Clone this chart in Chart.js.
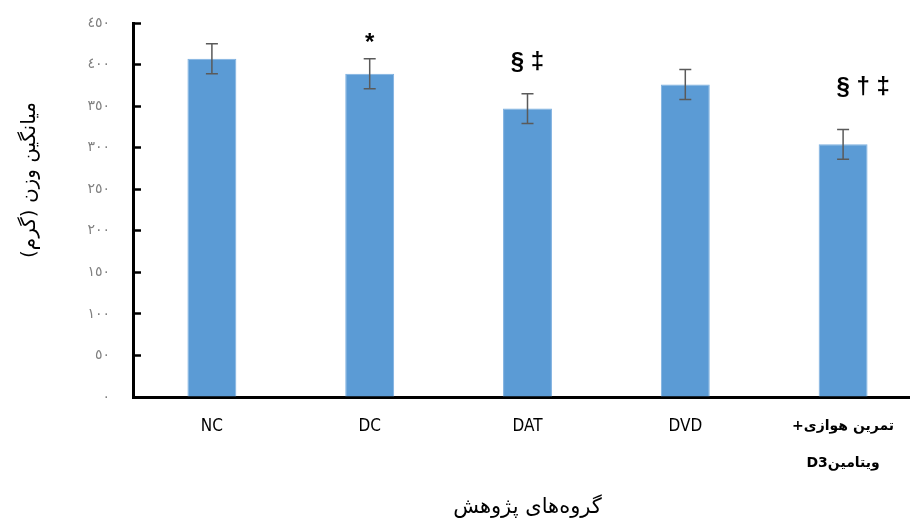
<!DOCTYPE html>
<html>
<head>
<meta charset="utf-8">
<script src="https://cdn.jsdelivr.net/npm/chart.js@4/dist/chart.umd.min.js"></script>
<style>
  html, body { margin: 0; padding: 0; background: #fff; overflow: hidden; }
  #wrap { position: relative; width: 925px; height: 523px; }
</style>
</head>
<body>
<div id="wrap"><canvas id="c" dir="rtl"></canvas></div>
<script>
// Study groups and mean body weight (g) with standard deviation
const groups = ['NC', 'DC', 'DAT', 'DVD', ['تمرین هوازی+', 'ویتامینD3']];
const meanWeight = [407, 389, 347, 376, 304];
const weightSD = [18, 18, 18, 18, 18];
// Significance symbols above each group
const sigMarks = ['', '*', '§ ‡', '', '§ † ‡'];
// Y axis tick labels (Arabic-Indic digits), one per 50 g step
const yTickLabels = ['٠', '٥٠', '١٠٠', '١٥٠', '٢٠٠', '٢٥٠', '٣٠٠', '٣٥٠', '٤٠٠', '٤٥٠'];
const yTitle = 'میانگین وزن (گرم)';
const xTitle = 'گروه‌های پژوهش';

// Error bars (mean ± SD) drawn through the chart's own scales
const errorBars = {
  id: 'errorBars',
  afterDatasetsDraw(chart, args, opts) {
    const { ctx, scales: { y } } = chart;
    const meta = chart.getDatasetMeta(0);
    ctx.save();
    ctx.strokeStyle = opts.color;
    ctx.lineWidth = opts.width;
    meta.data.forEach((bar, i) => {
      const top = y.getPixelForValue(meanWeight[i] + weightSD[i]);
      const bot = y.getPixelForValue(meanWeight[i] - weightSD[i]);
      const x = bar.x, c = opts.cap / 2;
      ctx.beginPath();
      ctx.moveTo(x, top); ctx.lineTo(x, bot);
      ctx.moveTo(x - c, top); ctx.lineTo(x + c, top);
      ctx.moveTo(x - c, bot); ctx.lineTo(x + c, bot);
      ctx.stroke();
    });
    ctx.restore();
  }
};

// Significance symbols, placed at a y value above each bar
const sigLabels = {
  id: 'sigLabels',
  afterDatasetsDraw(chart, args, opts) {
    const { ctx, scales: { y } } = chart;
    const meta = chart.getDatasetMeta(0);
    ctx.save();
    ctx.direction = 'ltr';
    ctx.fillStyle = '#000';
    ctx.font = opts.font;
    ctx.textAlign = 'center';
    ctx.textBaseline = 'middle';
    sigMarks.forEach((m, i) => {
      if (!m) return;
      ctx.fillText(m, meta.data[i].x + (opts.shiftX[i] || 0), y.getPixelForValue(opts.at[i]));
    });
    ctx.restore();
  }
};

// Rotated y axis title
const yAxisTitle = {
  id: 'yAxisTitle',
  afterDraw(chart, args, opts) {
    const { ctx } = chart;
    ctx.save();
    ctx.direction = 'rtl';
    ctx.translate(opts.x, opts.y);
    ctx.rotate(-Math.PI / 2);
    ctx.font = opts.font;
    ctx.fillStyle = '#000';
    ctx.textAlign = 'center';
    ctx.textBaseline = 'middle';
    ctx.fillText(yTitle, 0, 0);
    ctx.restore();
  }
};

const narrow = "'DejaVu Sans Condensed', 'Liberation Sans Narrow', 'Liberation Sans', sans-serif";

new Chart(document.getElementById('c'), {
  type: 'bar',
  data: {
    labels: groups,
    datasets: [{
      data: meanWeight,
      backgroundColor: '#5B9BD5',
      borderColor: '#7DB0E0',
      borderWidth: 1,
      categoryPercentage: 1,
      barPercentage: 0.31
    }]
  },
  options: {
    responsive: true,
    maintainAspectRatio: false,
    animation: false,
    layout: { padding: { top: 23, right: 3, bottom: 0, left: 0 } },
    plugins: {
      legend: { display: false },
      tooltip: { enabled: false },
      errorBars: { color: '#5a5a5a', width: 1.5, cap: 12 },
      sigLabels: {
        font: "bold 24px 'Liberation Sans', Arial, sans-serif",
        at: [null, 426, 403, null, 372],
        shiftX: [0, 0, 0, 0, 20]
      },
      yAxisTitle: { x: 30, y: 180, font: "20px 'DejaVu Sans', sans-serif" }
    },
    scales: {
      x: {
        afterFit(s) { s.height = 126; },
        grid: { display: false, drawTicks: false },
        border: { display: true, color: '#000', width: 3 },
        ticks: {
          autoSkip: false,
          maxRotation: 0,
          minRotation: 0,
          padding: 11,
          color: '#000',
          font: (c) => c.index === 4
            ? { family: "'DejaVu Sans', sans-serif", size: 14, weight: 'bold', lineHeight: '37px' }
            : { family: narrow, size: 17, lineHeight: '37px' }
        },
        title: {
          display: true,
          text: xTitle,
          color: '#000',
          font: { family: "'DejaVu Sans', sans-serif", size: 21 },
          padding: { top: 0, bottom: 3 }
        }
      },
      y: {
        min: 0,
        max: 450,
        afterFit(s) {
          s.width = 133;
          s.paddingTop = 0;
          s.paddingBottom = 0;
        },
        grid: { drawOnChartArea: false, drawTicks: true, tickLength: -8, tickWidth: 2.5, tickColor: '#000' },
        border: { display: true, color: '#000', width: 3 },
        ticks: {
          stepSize: 50,
          padding: 31,
          color: '#808080',
          font: { family: "'DejaVu Sans', sans-serif", size: 14 },
          callback: (v) => yTickLabels[Math.round(v / 50)]
        }
      }
    }
  },
  plugins: [errorBars, sigLabels, yAxisTitle]
});
</script>
</body>
</html>
